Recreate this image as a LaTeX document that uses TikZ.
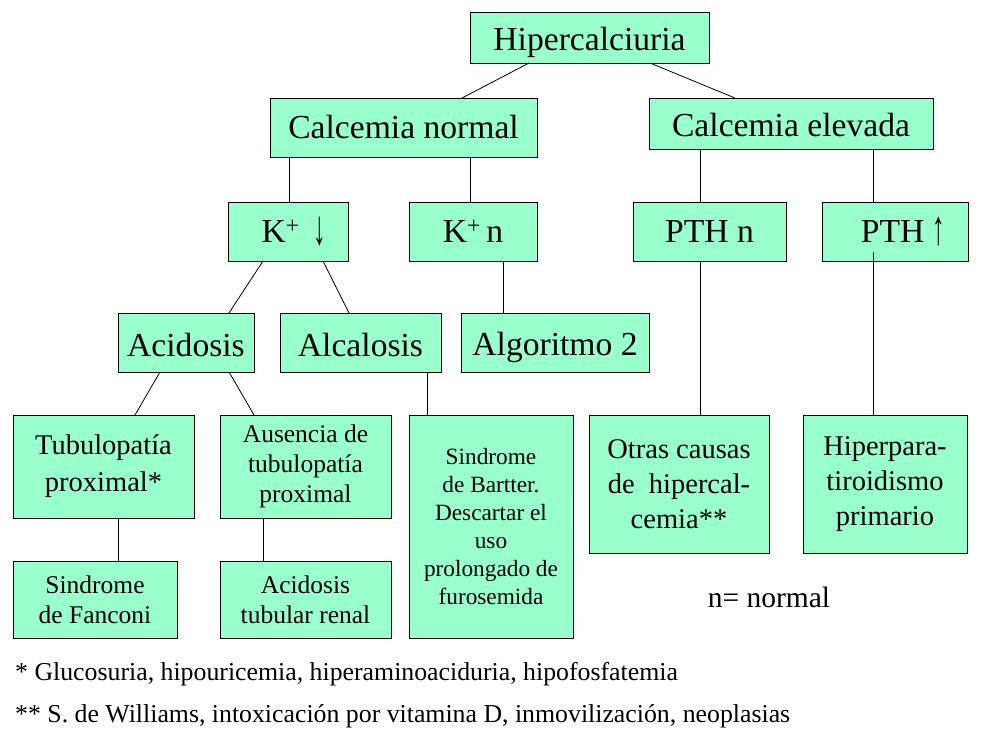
\documentclass[tikz,border=0pt]{standalone}
\usepackage{fontspec}
\setmainfont{Liberation Serif}
\usetikzlibrary{calc}
\definecolor{boxfill}{HTML}{99FFCC}
\newcommand{\tallarrow}[1]{\raisebox{-2pt}{\scalebox{0.75}[1.45]{#1}}}
\newcommand{\shiftdn}[2]{\raisebox{-#1}[\height][\depth]{#2}}
\tikzset{
  box/.style={draw=black, fill=boxfill, line width=0.9pt, inner sep=0pt, outer sep=0pt, align=center, text=black},
  big/.style={font=\fontsize{33.6}{40}\selectfont},
  mid/.style={font=\fontsize{28.5}{35}\selectfont},
  small/.style={font=\fontsize{25.5}{30}\selectfont},
  tiny/.style={font=\fontsize{23.3}{28}\selectfont},
  link/.style={draw=black, line width=0.8pt},
  note/.style={font=\fontsize{25.8}{30}\selectfont, inner sep=0pt, anchor=base west}
}
\begin{document}
\begin{tikzpicture}[x=1pt,y=-1pt]
\useasboundingbox[fill=white] (0,0) rectangle (993,742);
% level 1
\node[box,big,minimum width=239pt,minimum height=51pt] (hip) at (589.5,37.5) {\shiftdn{5pt}{Hipercalciuria}};
% level 2
\node[box,big,minimum width=267pt,minimum height=59pt] (cn) at (403.5,127.5) {Calcemia normal};
\node[box,big,minimum width=284pt,minimum height=51pt] (ce) at (791,123.5) {\shiftdn{1.5pt}{Calcemia elevada}};
% level 3
\node[box,big,minimum width=120pt,minimum height=59pt] (kd) at (288,231.5) {\hspace*{12pt}K\textsuperscript{+}\hspace{14pt}\tallarrow{↓}};
\node[box,big,minimum width=128pt,minimum height=59pt] (kn) at (473,231.5) {K\textsuperscript{+}\,n};
\node[box,big,minimum width=153pt,minimum height=59pt] (pthn) at (709.5,231.5) {PTH n};
\node[box,big,minimum width=146pt,minimum height=59pt] (pthu) at (895,231.5) {\hspace*{16pt}PTH\hspace{8pt}\tallarrow{↑}};
% level 4
\node[box,big,minimum width=136pt,minimum height=59pt] (acid) at (186,342.5) {\shiftdn{3pt}{Acidosis}};
\node[box,big,minimum width=161pt,minimum height=59pt] (alca) at (360.5,342.5) {\shiftdn{3pt}{Alcalosis}};
\node[box,big,minimum width=188pt,minimum height=59pt] (alg) at (555,342.5) {\shiftdn{5pt}{Algoritmo 2}};
% level 5
\node[box,mid,minimum width=181pt,minimum height=103pt] (tub) at (103.5,466.5) {Tubulopatía\\[2pt]proximal*};
\node[box,small,minimum width=171pt,minimum height=103pt] (aus) at (305.5,466.5) {Ausencia de\\tubulopatía\\proximal};
\node[box,tiny,minimum width=164pt,minimum height=223pt] (bart) at (491,526.5) {Sindrome\\de Bartter.\\Descartar el\\uso\\prolongado de\\furosemida};
\node[box,mid,minimum width=180pt,minimum height=138pt] (otras) at (679,484) {Otras causas\\de\ \ hipercal-\\cemia**};
\node[box,mid,minimum width=164pt,minimum height=138pt] (hpp) at (885,484) {Hiperpara-\\tiroidismo\\primario};
% level 6
\node[box,small,minimum width=164pt,minimum height=77pt] (fan) at (95,599.5) {Sindrome\\de Fanconi};
\node[box,small,minimum width=171pt,minimum height=77pt] (atr) at (305.5,599.5) {Acidosis\\tubular renal};
% connectors
\draw[link] ($(hip.south west)+(59,0)$) -- ($(cn.north west)+(192,0)$);
\draw[link] ($(hip.south west)+(180,0)$) -- ($(ce.north west)+(86,0)$);
\draw[link] ($(cn.south west)+(19,0)$) -- (kd.north -| {$(cn.south west)+(19,0)$});
\draw[link] ($(cn.south west)+(200,0)$) -- (kn.north -| {$(cn.south west)+(200,0)$});
\draw[link] ($(ce.south west)+(51,0)$) -- (pthn.north -| {$(ce.south west)+(51,0)$});
\draw[link] ($(ce.south west)+(224,0)$) -- (pthu.north -| {$(ce.south west)+(224,0)$});
\draw[link] ($(kd.south west)+(35,0)$) -- ($(acid.north west)+(111,0)$);
\draw[link] ($(kd.south west)+(95,0)$) -- ($(alca.north west)+(69,0)$);
\draw[link] ($(kn.south west)+(94,0)$) -- (alg.north -| {$(kn.south west)+(94,0)$});
\draw[link] ($(acid.south west)+(42,0)$) -- ($(tub.north west)+(122,0)$);
\draw[link] ($(acid.south west)+(111,0)$) -- ($(aus.north west)+(34,0)$);
\draw[link] ($(alca.south west)+(147,0)$) -- (bart.north -| {$(alca.south west)+(147,0)$});
\draw[link] ($(pthn.south west)+(67,0)$) -- (otras.north -| {$(pthn.south west)+(67,0)$});
\coordinate (pthin) at ($(pthu.south west)+(51,-9)$);
\draw[link] (pthin) -- (hpp.north -| pthin);
\draw[link] ($(tub.south west)+(105,0)$) -- (fan.north -| {$(tub.south west)+(105,0)$});
\draw[link] ($(aus.south west)+(43,0)$) -- (atr.north -| {$(aus.south west)+(43,0)$});
% notes
\node[font=\fontsize{29.5}{34}\selectfont, inner sep=0pt, anchor=base] (leg) at (769,607) {n= normal};
\node[note] (n1) at (15,680) {* Glucosuria, hipouricemia, hiperaminoaciduria, hipofosfatemia};
\node[note] (n2) at (15,722) {** S. de Williams, intoxicación por vitamina D, inmovilización, neoplasias};
\end{tikzpicture}
\end{document}
